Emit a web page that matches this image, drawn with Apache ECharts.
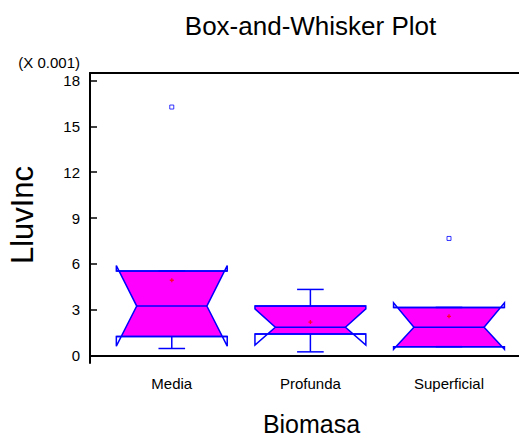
<!DOCTYPE html>
<html>
<head>
<meta charset="utf-8">
<script src="https://cdn.jsdelivr.net/npm/echarts@6/dist/echarts.min.js"></script>
<style>html,body{margin:0;padding:0;background:#fff;}#c{width:519px;height:438px;}</style>
</head>
<body>
<div id="c"></div>
<script>
const categories = ['Media', 'Profunda', 'Superficial'];
const whiskerLow = [0.45, 0.23, 0.57];
const q1 = [1.23, 1.40, 0.57];
const median = [3.23, 1.84, 1.84];
const q3 = [5.53, 3.23, 3.14];
const whiskerHigh = [5.53, 4.32, 3.14];
const notchLow = [0.60, 0.68, 0.40];
const notchHigh = [5.88, 3.05, 3.44];
const means = [4.92, 2.18, 2.56];
const outlierCategory = ['Media', 'Superficial'];
const outlierValue = [16.27, 7.66];
const yTicks = [0, 3, 6, 9, 12, 15, 18];

const FONT = 'Liberation Sans, Arial, sans-serif';
const BLUE = '#0000ff';
const W = 0.4, WN = 0.253, CAP = 0.096;

function renderBox(params, api) {
  const i = params.dataIndex;
  const c = i + 1;
  const lo = q1[i], hi = q3[i], med = median[i], nl = notchLow[i], nh = notchHigh[i];
  const P = (x, y) => api.coord([x, y]);
  function hw(y) {
    if (y <= nl || y >= nh) return W;
    if (y < med) return W - (W - WN) * (y - nl) / (med - nl);
    return W - (W - WN) * (nh - y) / (nh - med);
  }
  let ys = [lo, nl, med, nh, hi].filter(y => y >= lo && y <= hi);
  ys = Array.from(new Set(ys)).sort((a, b) => a - b);
  const fillPts = ys.map(y => P(c - hw(y), y)).concat(ys.slice().reverse().map(y => P(c + hw(y), y)));
  const outline = [
    [c - W, hi], [c - W, nh], [c - WN, med], [c - W, nl], [c - W, lo],
    [c + W, lo], [c + W, nl], [c + WN, med], [c + W, nh], [c + W, hi]
  ].map(p => P(p[0], p[1]));
  const ln = { stroke: BLUE, lineWidth: 1.5, fill: null };
  const seg = (a, b) => ({ type: 'line', shape: { x1: a[0], y1: a[1], x2: b[0], y2: b[1] }, style: ln });
  return {
    type: 'group',
    children: [
      { type: 'polygon', shape: { points: fillPts }, style: { fill: '#ff00ff', stroke: null } },
      { type: 'polygon', shape: { points: outline }, style: ln },
      seg(P(c - W, lo), P(c + W, lo)),
      seg(P(c - W, hi), P(c + W, hi)),
      seg(P(c - WN, med), P(c + WN, med)),
      seg(P(c, hi), P(c, whiskerHigh[i])),
      seg(P(c - CAP, whiskerHigh[i]), P(c + CAP, whiskerHigh[i])),
      seg(P(c, lo), P(c, whiskerLow[i])),
      seg(P(c - CAP, whiskerLow[i]), P(c + CAP, whiskerLow[i]))
    ]
  };
}

const chart = echarts.init(document.getElementById('c'), null, { renderer: 'svg' });
chart.setOption({
  animation: false,
  backgroundColor: '#fff',
  grid: { left: 90, top: 73, width: 429, height: 290, containLabel: false },
  xAxis: [{
    type: 'value', min: 0.41, max: 3.505,
    axisLine: { show: true, lineStyle: { color: '#000', width: 2 } },
    axisTick: { show: false },
    splitLine: { show: false },
    axisLabel: {
      customValues: categories.map((_, k) => k + 1),
      formatter: v => categories[Math.round(v) - 1] || '',
      fontFamily: FONT, fontSize: 15, color: '#000', margin: 13
    }
  }, {
    type: 'value', position: 'top', min: 0.41, max: 3.505,
    axisLine: { show: true, onZero: false, lineStyle: { color: '#000', width: 2 } },
    axisTick: { show: false }, axisLabel: { show: false }, splitLine: { show: false }
  }],
  yAxis: {
    type: 'value', min: -0.5, max: 18.5,
    axisLine: { show: true, onZero: false, lineStyle: { color: '#000', width: 2 } },
    axisTick: { show: true, inside: true, length: 7, customValues: yTicks, lineStyle: { color: '#000', width: 1.5 } },
    axisLabel: { customValues: yTicks, fontFamily: FONT, fontSize: 15, color: '#000', margin: 10 },
    splitLine: { show: false }
  },
  graphic: [
    { type: 'text', x: 310.5, y: 26, style: { text: 'Box-and-Whisker Plot', font: '26px ' + FONT, fill: '#000', align: 'center', verticalAlign: 'middle' } },
    { type: 'text', x: 311.5, y: 424, style: { text: 'Biomasa', font: '25px ' + FONT, fill: '#000', align: 'center', verticalAlign: 'middle' } },
    { type: 'text', x: 80, y: 62, style: { text: '(X 0.001)', font: '15px ' + FONT, fill: '#000', align: 'right', verticalAlign: 'middle' } },
    { type: 'text', x: 22.5, y: 215, rotation: Math.PI / 2, style: { text: 'LluvInc', font: '31px ' + FONT, fill: '#000', align: 'center', verticalAlign: 'middle' } }
  ],
  series: [{
    type: 'custom',
    renderItem: renderBox,
    data: categories.map((_, k) => [k + 1, median[k]]),
    z: 2
  }, {
    type: 'scatter',
    symbol: 'path://M1,0H2V1H3V2H2V3H1V2H0V1H1Z',
    symbolSize: 4,
    itemStyle: { color: '#ff0000' },
    data: means.map((m, k) => [k + 1, m]),
    z: 3
  }, {
    type: 'scatter',
    symbol: 'rect',
    symbolSize: 4,
    itemStyle: { color: '#fff', borderColor: BLUE, borderWidth: 1 },
    data: outlierValue.map((v, k) => [categories.indexOf(outlierCategory[k]) + 1, v]),
    z: 3
  }]
});
</script>
</body>
</html>
